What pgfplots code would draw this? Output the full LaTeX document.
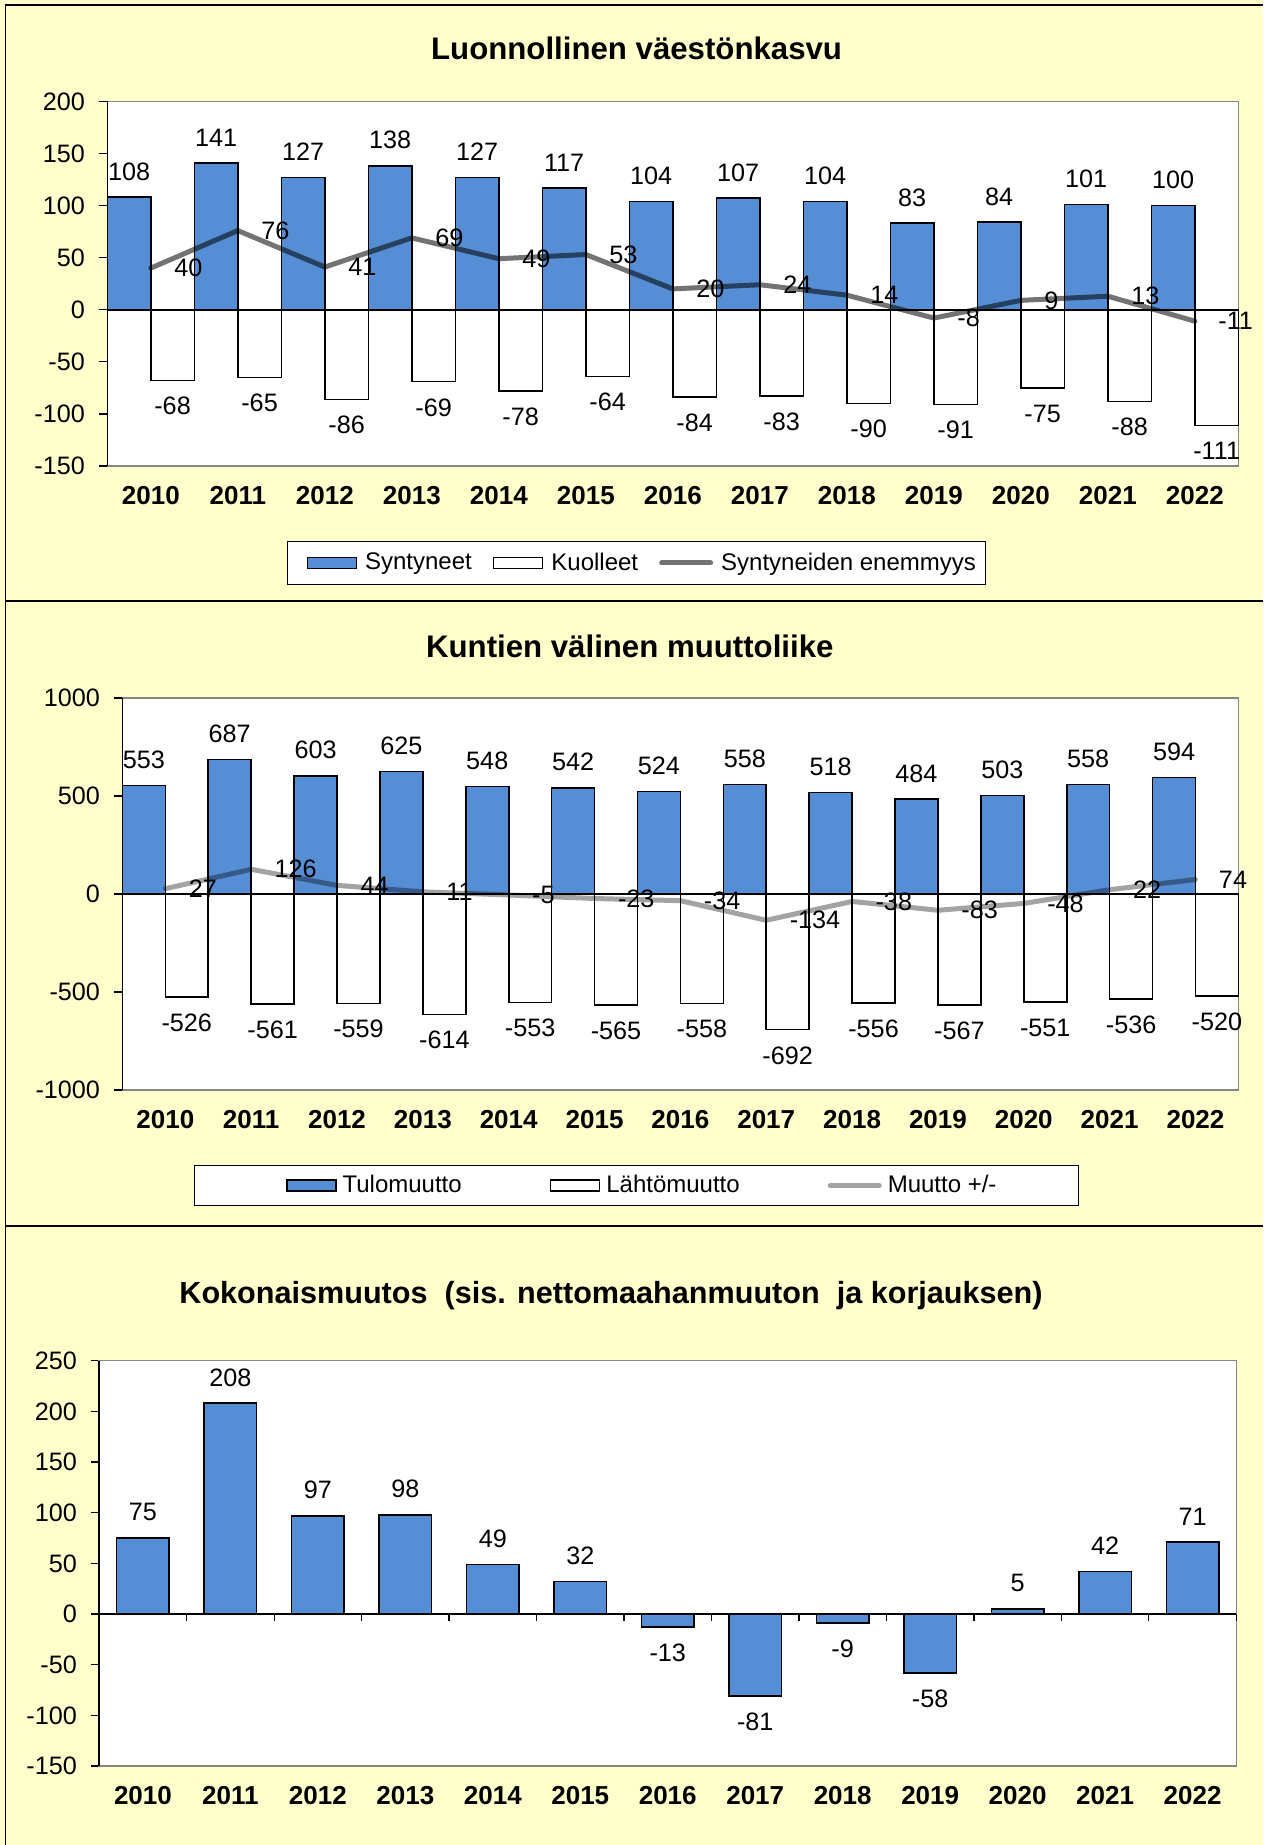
\documentclass[border=0pt]{standalone}
\usepackage{fontspec}
\setmainfont{Liberation Sans}
\usepackage{pgfplots}
\usepackage{pgfplotstable}
\pgfplotsset{compat=1.18}
\definecolor{bg}{HTML}{FFFFCC}
\definecolor{barblue}{RGB}{85,142,213}
\definecolor{framegray}{HTML}{868686}
\newcommand\tickfont{\fontsize{12.6}{14}\selectfont}
\newcommand\yearfont{\fontsize{13}{15}\selectfont\bfseries}
\newcommand\datafont{\fontsize{12.6}{14}\selectfont}
\newcommand\legfont{\fontsize{12}{14}\selectfont}
\newcommand\titlefont{\fontsize{15.6}{18}\selectfont\bfseries}
\newcommand\titlefontc{\fontsize{15.3}{18}\selectfont\bfseries}

\pgfplotstableread{
i syn kuo net
0 108 -68 40
1 141 -65 76
2 127 -86 41
3 138 -69 69
4 127 -78 49
5 117 -64 53
6 104 -84 20
7 107 -83 24
8 104 -90 14
9 83 -91 -8
10 84 -75 9
11 101 -88 13
12 100 -111 -11
}\tabA
\pgfplotstableread{
i tulo lahto net
0 553 -526 27
1 687 -561 126
2 603 -559 44
3 625 -614 11
4 548 -553 -5
5 542 -565 -23
6 524 -558 -34
7 558 -692 -134
8 518 -556 -38
9 484 -567 -83
10 503 -551 -48
11 558 -536 22
12 594 -520 74
}\tabB
\pgfplotstableread{
i tot
0 75
1 208
2 97
3 98
4 49
5 32
6 -13
7 -81
8 -9
9 -58
10 5
11 42
12 71
}\tabC

\pgfplotsset{
  base/.style={
    scale only axis, anchor=south west, clip=false,
    xmin=-0.5, xmax=12.5,
    xtick={0,...,12},
    xticklabels={2010,2011,2012,2013,2014,2015,2016,2017,2018,2019,2020,2021,2022},
    xticklabel style={font=\yearfont, inner ysep=0pt, yshift=-6pt},
    yticklabel style={font=\tickfont, inner xsep=0pt, xshift=-7pt},
    x tick style={draw=none},
    ytick pos=left, tick align=outside, major tick length=4pt,
    y tick style={black, line width=0.6pt},
    axis line style={draw=framegray, line width=0.75pt},
    axis background/.style={fill=white},
    /pgf/number format/assume math mode=true,
    /pgf/number format/1000 sep={},
    legend columns=3,
  },
  bluebar/.style={ybar, bar width=0.5, bar shift=0, fill=barblue, draw=black, line width=0.8pt,
    nodes near coords, nodes near coords align=vertical,
    every node near coord/.append style={font=\datafont, inner ysep=8pt, inner xsep=0pt, black},
    legend image code/.code={\path (-4.7pt,0pt); \draw[fill=barblue, draw=black, line width=0.8pt] (0pt,-2.75pt) rectangle (24.5pt,2.75pt);}},
  whitebar/.style={ybar, bar width=0.5, bar shift=0, fill=white, draw=black, line width=0.8pt,
    nodes near coords, nodes near coords align=vertical,
    every node near coord/.append style={font=\datafont, inner ysep=8pt, inner xsep=0pt, black},
    legend image code/.code={\draw[fill=white, draw=black, line width=0.8pt] (0pt,-2.75pt) rectangle (24.5pt,2.75pt);}},
  netline/.style={sharp plot, draw=black, draw opacity=#1, line width=2.5pt, line cap=round, line join=round, mark=none,
    nodes near coords,
    every node near coord/.append style={font=\datafont, anchor=west, inner sep=0pt, xshift=10.5pt, black, opacity=1},
    legend image code/.code={\draw[black, opacity=#1, line width=2.5pt, line cap=round] (0pt,0pt) -- (24.5pt,0pt);}},
}

\begin{document}
\begin{tikzpicture}
\path[use as bounding box, fill=bg] (0pt,0pt) rectangle (631.5pt,-922.5pt);
\draw[black, line width=0.8pt] (2.65pt,-922.5pt) -- (2.65pt,-2.65pt) -- (631.5pt,-2.65pt);
\draw[black, line width=1pt] (2.65pt,-300.5pt) -- (631.5pt,-300.5pt);
\draw[black, line width=1pt] (2.65pt,-612.8pt) -- (631.5pt,-612.8pt);

\node[font=\titlefont] at (318.3pt,-24pt) {Luonnollinen väestönkasvu};
\node[font=\titlefont] at (314.9pt,-323pt) {Kuntien välinen muuttoliike};
\node[font=\titlefontc] at (305.5pt,-648pt) {Kokonaismuutos\ \ (sis. nettomaahanmuuton\ \ ja korjauksen)};

% Panel 1
\begin{axis}[base, at={(53.65pt,-233pt)}, width=565.55pt, height=182.3pt,
  ymin=-150, ymax=200, ytick={-150,-100,...,200},
  legend style={at={(0.4679,-0.266)}, anchor=center, font=\legfont, draw=black, line width=0.5pt, fill=white,
    inner xsep=5pt, inner ysep=5.5pt, nodes={inner sep=0pt},
    /tikz/every odd column/.append style={column sep=4pt},
    /tikz/every even column/.append style={column sep=10.5pt}},
  legend cell align=left]
\addplot[bluebar] table[x expr=\thisrow{i}-0.25, y=syn] {\tabA};
\addlegendentry{Syntyneet}
\addplot[whitebar] table[x expr=\thisrow{i}+0.25, y=kuo] {\tabA};
\addlegendentry{Kuolleet}
\addplot[black, line width=0.8pt, forget plot, sharp plot] coordinates {(-0.5,0) (12.5,0)};
\addplot[black, line width=0.8pt, forget plot, sharp plot] coordinates {(-0.5,-150) (-0.5,200)};
\addplot[netline=0.55] table[x=i, y=net] {\tabA};
\addlegendentry{Syntyneiden enemmyys}
\end{axis}

% Panel 2
\begin{axis}[base, at={(61.2pt,-545pt)}, width=558pt, height=196pt,
  ymin=-1000, ymax=1000, ytick={-1000,-500,...,1000},
  legend style={at={(0.4607,-0.2439)}, anchor=center, font=\legfont, draw=black, line width=0.5pt, fill=white,
    inner xsep=41.2pt, inner ysep=4.8pt, nodes={inner sep=0pt},
    /tikz/every odd column/.append style={column sep=3pt},
    /tikz/every even column/.append style={column sep=44pt}},
  legend cell align=left]
\addplot[bluebar] table[x expr=\thisrow{i}-0.25, y=tulo] {\tabB};
\addlegendentry{Tulomuutto}
\addplot[whitebar] table[x expr=\thisrow{i}+0.25, y=lahto] {\tabB};
\addlegendentry{Lähtömuutto}
\addplot[black, line width=0.8pt, forget plot, sharp plot] coordinates {(-0.5,0) (12.5,0)};
\addplot[black, line width=0.8pt, forget plot, sharp plot] coordinates {(-0.5,-1000) (-0.5,1000)};
\addplot[netline=0.36] table[x=i, y=net] {\tabB};
\addlegendentry{Muutto +/-}
\end{axis}

% Panel 3
\begin{axis}[base, at={(49.6pt,-883pt)}, width=568.55pt, height=202.65pt,
  ymin=-150, ymax=250, ytick={-150,-100,...,250}]
\addplot[ybar, bar width=0.6, bar shift=0, fill=barblue, draw=black, line width=0.8pt,
    nodes near coords, nodes near coords align=vertical,
    every node near coord/.append style={font=\datafont, inner ysep=8pt, inner xsep=0pt, black}]
    table[x=i, y=tot] {\tabC};
\addplot[black, line width=0.8pt, forget plot, sharp plot] coordinates {(-0.5,0) (12.5,0)};
\addplot[black, line width=0.8pt, forget plot, sharp plot] coordinates {(-0.5,-150) (-0.5,250)};
\pgfplotsinvokeforeach{-0.5,0.5,...,12.5}{\draw[black, line width=0.6pt] (axis cs:#1,0) -- ([yshift=-3.5pt]axis cs:#1,0);}
\end{axis}
\end{tikzpicture}
\end{document}
